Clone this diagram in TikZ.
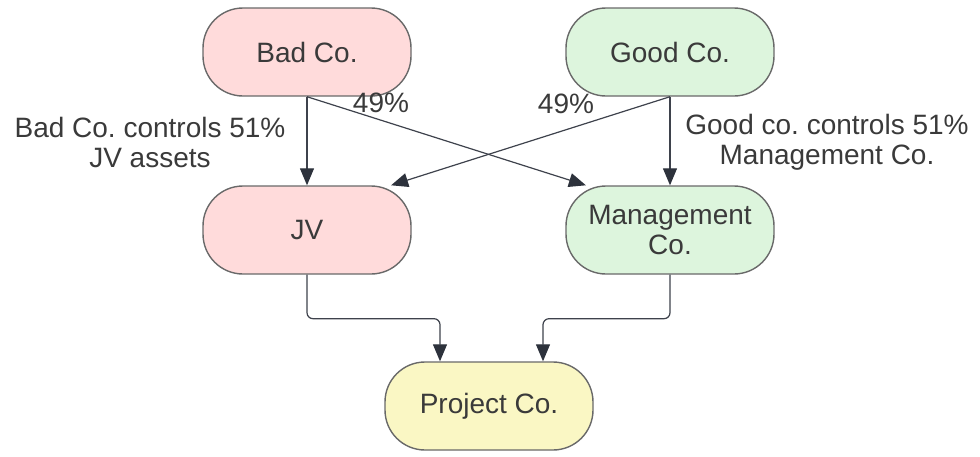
\documentclass[tikz,border=0pt]{standalone}
\usepackage{fontspec}
\setmainfont{Liberation Sans}
\usepackage{xcolor}
\usetikzlibrary{arrows.meta}
\definecolor{badpink}{RGB}{255,219,219}
\definecolor{goodgreen}{RGB}{221,245,221}
\definecolor{projyellow}{RGB}{250,247,196}
\definecolor{edgegray}{RGB}{105,105,105}
\definecolor{linegray}{RGB}{62,66,76}
\definecolor{arrowgray}{RGB}{45,50,60}
\definecolor{textgray}{RGB}{58,58,58}
\frenchspacing

\begin{document}
\begin{tikzpicture}[x=0.5pt,y=-0.5pt,
  box/.style={draw=edgegray, line width=0.7pt, rounded corners=20pt,
    minimum width=104pt, minimum height=44pt, align=center,
    text=textgray, font=\fontsize{14}{15}\selectfont},
  conn/.style={draw=linegray, line width=0.6pt,
    -{Triangle[length=8.5pt,width=7pt,color=arrowgray]}},
  lbl/.style={text=textgray, align=center, font=\fontsize{14}{15}\selectfont}]
\useasboundingbox (0,0) rectangle (980,456);

% Owners
\node[box, fill=badpink] (bad) at (307,52) {Bad Co.};
\node[box, fill=goodgreen] (good) at (670,52) {Good Co.};

% Middle level
\node[box, fill=badpink] (jv) at (307,230) {JV};
\node[box, fill=goodgreen] (mgmt) at (670,230) {Management\\Co.};

% Project
\node[box, fill=projyellow] (proj) at (489,406) {Project Co.};

% Ownership links
\draw[conn] (bad.south) -- (jv.north);
\draw[conn] (good.south) -- (mgmt.north);
\draw[conn] (bad.south) -- (mgmt.152);
\draw[conn] (good.south) -- (jv.28);

% Down to the project
\draw[conn, rounded corners=3pt] (jv.south) -- ++(0,44) -| ([xshift=-24.5pt]proj.north);
\draw[conn, rounded corners=3pt] (mgmt.south) -- ++(0,44) -| ([xshift=27pt]proj.north);

% Labels
\node[lbl] (badlbl) at (150,142) {Bad Co. controls 51\%\\JV assets};
\node[lbl] (goodlbl) at (827,142) {Good co. controls 51\%\\Management Co.};
\node[lbl] (pctleft) at (381,103) {49\%};
\node[lbl] (pctright) at (566,104) {49\%};
\end{tikzpicture}
\end{document}
